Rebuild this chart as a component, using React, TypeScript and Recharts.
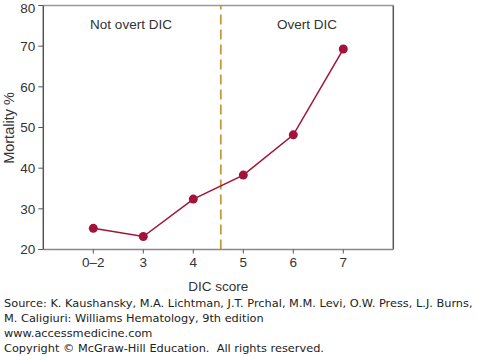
import { LineChart, Line, XAxis, YAxis, ReferenceLine } from "recharts";

const scores = ["0–2", "3", "4", "5", "6", "7"];
const mortality = [25.2, 23.2, 32.4, 38.3, 48.2, 69.3];
const yTicks = [20, 30, 40, 50, 60, 70, 80];
const cutoff = 2.55; // between score 4 and 5

const footer = [
  "Source: K. Kaushansky, M.A. Lichtman, J.T. Prchal, M.M. Levi, O.W. Press, L.J. Burns,",
  "M. Caligiuri: Williams Hematology, 9th edition",
  "www.accessmedicine.com",
  "Copyright © McGraw-Hill Education.  All rights reserved.",
];

const data = scores.map((s, i) => ({ x: i, label: s, value: mortality[i] }));

const FONT = "'Liberation Sans', Arial, sans-serif";
const TICK = { fill: "#333", fontSize: 13.5, fontFamily: FONT };

export default function App() {
  return (
    <div style={{ position: "absolute", left: 0, top: 0, width: 478, height: 356, background: "#fff", overflow: "hidden" }}>
      <LineChart width={478} height={356} data={data} margin={{ top: 5.5, right: 84.7, left: 0, bottom: 76.5 }}>
        <XAxis
          dataKey="x"
          type="number"
          domain={[-1, 6]}
          ticks={[0, 1, 2, 3, 4, 5]}
          tickFormatter={(v: number) => scores[v]}
          tick={TICK}
          axisLine={{ stroke: "#888", strokeWidth: 1.5 }}
          tickLine={{ stroke: "#555" }}
          tickSize={4}
          tickMargin={4}
          height={30}
        />
        <YAxis
          domain={[20, 80]}
          ticks={yTicks}
          tick={TICK}
          axisLine={{ stroke: "#555", strokeWidth: 1.5 }}
          tickLine={{ stroke: "#555" }}
          tickSize={5}
          tickMargin={3}
          width={43.3}
        />
        <ReferenceLine y={80} stroke="#999" strokeWidth={1.5} />
        <ReferenceLine x={6} stroke="#555" strokeWidth={1.5} />
        <ReferenceLine x={cutoff} stroke="#c49a3c" strokeWidth={1.8} strokeDasharray="10 5" />
        <Line
          dataKey="value"
          stroke="#a3123a"
          strokeWidth={1.5}
          dot={{ r: 4.5, fill: "#a3123a", stroke: "#a3123a", strokeWidth: 0 }}
          isAnimationActive={false}
        />
      </LineChart>
      <div style={{ position: "absolute", left: 131, top: 24, transform: "translate(-50%,-50%)", font: `13.5px ${FONT}`, color: "#333", whiteSpace: "nowrap" }}>
        Not overt DIC
      </div>
      <div style={{ position: "absolute", left: 307, top: 24, transform: "translate(-50%,-50%)", font: `13.5px ${FONT}`, color: "#333", whiteSpace: "nowrap" }}>
        Overt DIC
      </div>
      <div style={{ position: "absolute", left: 8.5, top: 128, transform: "translate(-50%,-50%) rotate(-90deg)", font: `14.5px ${FONT}`, color: "#333", whiteSpace: "nowrap" }}>
        Mortality %
      </div>
      <div style={{ position: "absolute", left: 218.3, top: 286, transform: "translate(-50%,-50%)", font: `13.5px ${FONT}`, color: "#333", whiteSpace: "nowrap" }}>
        DIC score
      </div>
      <div style={{ position: "absolute", left: 4, top: 295.5, font: `11.35px 'DejaVu Sans', Verdana, sans-serif`, lineHeight: "15.3px", color: "#222", whiteSpace: "nowrap" }}>
        {footer.map((l) => (
          <div key={l} style={{ whiteSpace: "pre" }}>{l}</div>
        ))}
      </div>
    </div>
  );
}
